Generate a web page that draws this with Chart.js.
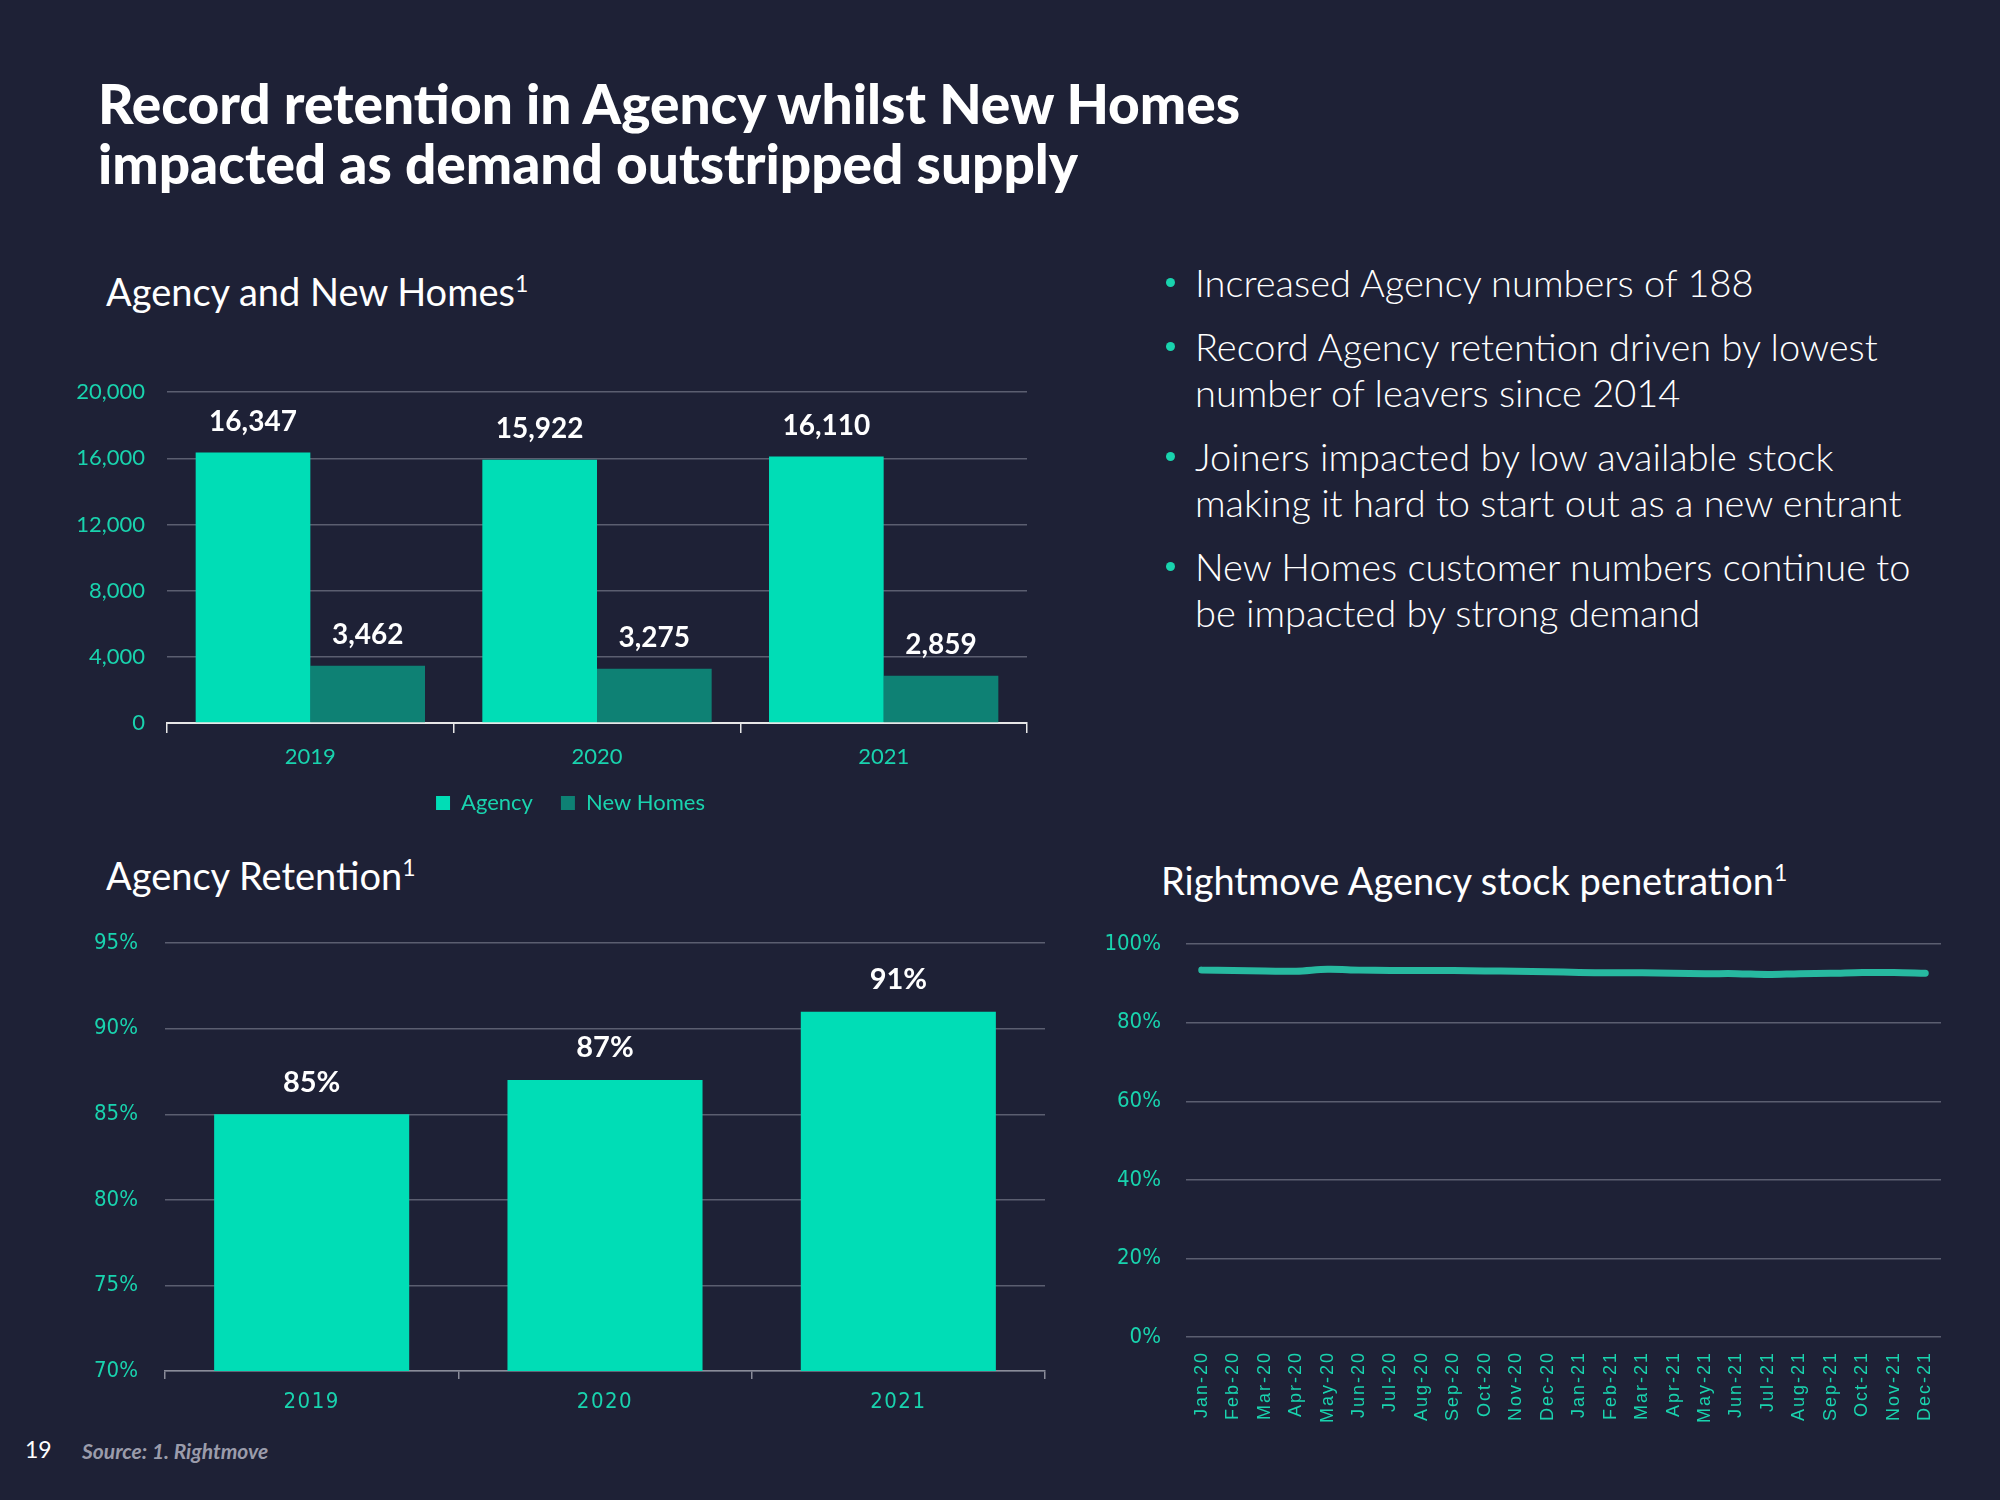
<!DOCTYPE html>
<html>
<head>
<meta charset="utf-8">
<script src="https://cdn.jsdelivr.net/npm/chart.js@4.4.1/dist/chart.umd.min.js"></script>
<style>
  html, body { margin: 0; padding: 0; }
  body {
    width: 2000px; height: 1500px; position: relative; overflow: hidden;
    background: #1e2136; color: #fff; font-family: Lato, "Open Sans", sans-serif;
  }
  .abs { position: absolute; }
  .headline { left: 98px; top: 73px; font-size: 55px; font-weight: 900; line-height: 60px; }
  .sub { font-size: 38px; line-height: 44px; font-weight: 400; white-space: nowrap; }
  .sub sup { font-size: 23px; vertical-align: 14px; line-height: 0; }
  ul.points { left: 1195px; top: 259px; margin: 0; padding: 0; list-style: none; font-size: 38px; font-weight: 300; line-height: 46px; }
  ul.points li { position: relative; margin-bottom: 18px; white-space: nowrap; }
  ul.points li::before { content: ""; position: absolute; left: -29px; top: 19px; width: 9px; height: 9px; border-radius: 50%; background: #19d3ae; }
  canvas { position: absolute; }
</style>
</head>
<body>
<div class="abs headline">Record retention in Agency whilst New Homes<br>impacted as demand outstripped supply</div>

<div class="abs sub" style="left:106px; top:269px;">Agency and New Homes<sup>1</sup></div>
<div class="abs sub" style="left:106px; top:853px;">Agency Retention<sup>1</sup></div>
<div class="abs sub" style="left:1161px; top:858px;">Rightmove Agency stock penetration<sup>1</sup></div>

<ul class="abs points">
  <li>Increased Agency numbers of 188</li>
  <li>Record Agency retention driven by lowest<br>number of leavers since 2014</li>
  <li>Joiners impacted by low available stock<br>making it hard to start out as a new entrant</li>
  <li>New Homes customer numbers continue to<br>be impacted by strong demand</li>
</ul>

<canvas id="agencyChart" width="1018" height="476" style="left:60px; top:357px;"></canvas>
<canvas id="retentionChart" width="1000" height="518" style="left:60px; top:903px;"></canvas>
<canvas id="stockChart" width="860" height="521" style="left:1100px; top:906px;"></canvas>

<div class="abs" style="left:25px; top:1435px; font-size:23px;">19</div>
<div class="abs" style="left:82px; top:1438px; font-size:21px; font-style:italic; font-weight:700; color:#9b9cab;">Source: 1. Rightmove</div>

<script>
// Chart data
const years = ["2019", "2020", "2021"];
const agencyCounts = [16347, 15922, 16110];
const newHomesCounts = [3462, 3275, 2859];

const retentionYears = ["2019", "2020", "2021"];
const retentionPct = [85, 87, 91];

const months = ["Jan-20", "Feb-20", "Mar-20", "Apr-20", "May-20", "Jun-20", "Jul-20", "Aug-20", "Sep-20", "Oct-20", "Nov-20", "Dec-20",
                "Jan-21", "Feb-21", "Mar-21", "Apr-21", "May-21", "Jun-21", "Jul-21", "Aug-21", "Sep-21", "Oct-21", "Nov-21", "Dec-21"];
const stockPenetration = [93.4, 93.3, 93.2, 93.1, 93.6, 93.4, 93.3, 93.3, 93.3, 93.2, 93.1, 93.0,
                          92.8, 92.7, 92.7, 92.6, 92.5, 92.5, 92.3, 92.5, 92.6, 92.8, 92.8, 92.6];

// Colours
const TEAL = "#00ddb6";
const DARK_TEAL = "#0e8174";
const TICK_TEAL = "#19d3ae";
const GRID = "#5b5e70";
const NARROW = "'Liberation Sans Narrow', 'DejaVu Sans Condensed', sans-serif";

// Draws the value above each bar.
const valueLabels = {
    id: "valueLabels",
    afterDatasetsDraw (chart, args, opts) {
        const ctx = chart.ctx;
        ctx.save();
        ctx.font = opts.font;
        ctx.fillStyle = "#ffffff";
        ctx.textAlign = "center";
        ctx.textBaseline = "middle";
        chart.data.datasets.forEach((ds, i) => {
            chart.getDatasetMeta(i).data.forEach((bar, j) => {
                ctx.fillText(opts.format(ds.data[j]), bar.x, bar.y - opts.offset);
            });
        });
        ctx.restore();
    }
};

// Spaced-out letters for the x tick labels (x ticks are drawn after the datasets, see ticks.z).
const spacedTicks = {
    id: "spacedTicks",
    afterDatasetsDraw (chart, args, opts) { chart.ctx.letterSpacing = opts.spacing; },
    afterDraw (chart) { chart.ctx.letterSpacing = "0px"; }
};

// Nudges the legend box after layout so it sits where the slide has it.
const legendNudge = {
    id: "legendNudge",
    afterLayout (chart, args, opts) {
        const lg = chart.legend;
        lg.left += opts.dx; lg.right += opts.dx;
        lg.top += opts.dy; lg.bottom += opts.dy;
    }
};

Chart.defaults.animation = false;
Chart.defaults.responsive = false;
Chart.defaults.plugins.tooltip.enabled = false;

// Agency and New Homes
new Chart(document.getElementById("agencyChart"), {
    type: "bar",
    data: {
        labels: years,
        datasets: [
            { label: "Agency", data: agencyCounts, backgroundColor: TEAL },
            { label: "New Homes", data: newHomesCounts, backgroundColor: DARK_TEAL }
        ]
    },
    options: {
        layout: { padding: { left: 0, right: 51, top: 20, bottom: 0 } },
        datasets: { bar: { categoryPercentage: 0.8, barPercentage: 1.0 } },
        scales: {
            y: {
                min: 0, max: 20000,
                afterFit: (scale) => { scale.width = 107; },
                ticks: {
                    stepSize: 4000, color: TICK_TEAL, padding: 22,
                    font: { family: "Lato", size: 22 },
                    callback: (v) => v.toLocaleString("en-GB")
                },
                grid: { color: GRID, lineWidth: 1.5, drawTicks: false },
                border: { display: false }
            },
            x: {
                afterFit: (scale) => { scale.height = 50; },
                ticks: { color: TICK_TEAL, padding: 11, font: { family: "Lato", size: 22 } },
                grid: { drawOnChartArea: false, drawTicks: true, tickLength: 10, color: "#e6e6e6", lineWidth: 1.5 },
                border: { color: "#e6e6e6", width: 2 }
            }
        },
        plugins: {
            legend: {
                position: "bottom",
                labels: { color: TICK_TEAL, boxWidth: 14, boxHeight: 14, padding: 28, font: { family: "Lato", size: 22 } }
            },
            legendNudge: { dx: 27, dy: -9 },
            valueLabels: { font: "bold 28px Lato", offset: 31, format: (v) => v.toLocaleString("en-GB") }
        }
    },
    plugins: [valueLabels, legendNudge]
});

// Agency Retention
new Chart(document.getElementById("retentionChart"), {
    type: "bar",
    data: {
        labels: retentionYears,
        datasets: [{ label: "Retention", data: retentionPct, backgroundColor: TEAL }]
    },
    options: {
        layout: { padding: { left: 0, right: 15, top: 21, bottom: 0 } },
        datasets: { bar: { categoryPercentage: 1.0, barPercentage: 0.665 } },
        scales: {
            y: {
                min: 70, max: 95,
                afterFit: (scale) => { scale.width = 105; },
                ticks: { stepSize: 5, color: TICK_TEAL, padding: 27, font: { family: NARROW, size: 22 }, callback: (v) => v + "%" },
                grid: { color: GRID, lineWidth: 1.5, drawTicks: false },
                border: { display: false }
            },
            x: {
                afterFit: (scale) => { scale.height = 50; },
                ticks: { color: TICK_TEAL, padding: 10, z: 1, font: { family: NARROW, size: 22 } },
                grid: { drawOnChartArea: false, drawTicks: true, tickLength: 8, color: "#8a8c99", lineWidth: 1.5 },
                border: { color: "#8a8c99", width: 1.5 }
            }
        },
        plugins: {
            legend: { display: false },
            spacedTicks: { spacing: "1.5px" },
            valueLabels: { font: "bold 29px Lato", offset: 32, format: (v) => v + "%" }
        }
    },
    plugins: [valueLabels, spacedTicks]
});

// Rightmove Agency stock penetration
new Chart(document.getElementById("stockChart"), {
    type: "line",
    data: {
        labels: months,
        datasets: [{
            label: "Stock penetration", data: stockPenetration,
            borderColor: "#27b9a0", borderWidth: 7, pointRadius: 0, tension: 0.35, borderCapStyle: "round"
        }]
    },
    options: {
        layout: { padding: { left: 0, right: 19, top: 21, bottom: 0 } },
        scales: {
            y: {
                min: 0, max: 100,
                afterFit: (scale) => { scale.width = 86; },
                ticks: { stepSize: 20, color: TICK_TEAL, padding: 25, font: { family: NARROW, size: 22 }, callback: (v) => v + "%" },
                grid: { color: GRID, lineWidth: 1.5, drawTicks: false },
                border: { display: false }
            },
            x: {
                offset: true,
                afterFit: (scale) => { scale.height = 90; },
                ticks: {
                    color: TICK_TEAL, padding: 6, z: 1, autoSkip: false, minRotation: 90, maxRotation: 90,
                    font: { family: "'Liberation Sans', Arial, sans-serif", size: 18 }
                },
                grid: { display: false },
                border: { display: false }
            }
        },
        plugins: { legend: { display: false }, spacedTicks: { spacing: "2px" } }
    },
    plugins: [spacedTicks]
});
</script>
</body>
</html>
